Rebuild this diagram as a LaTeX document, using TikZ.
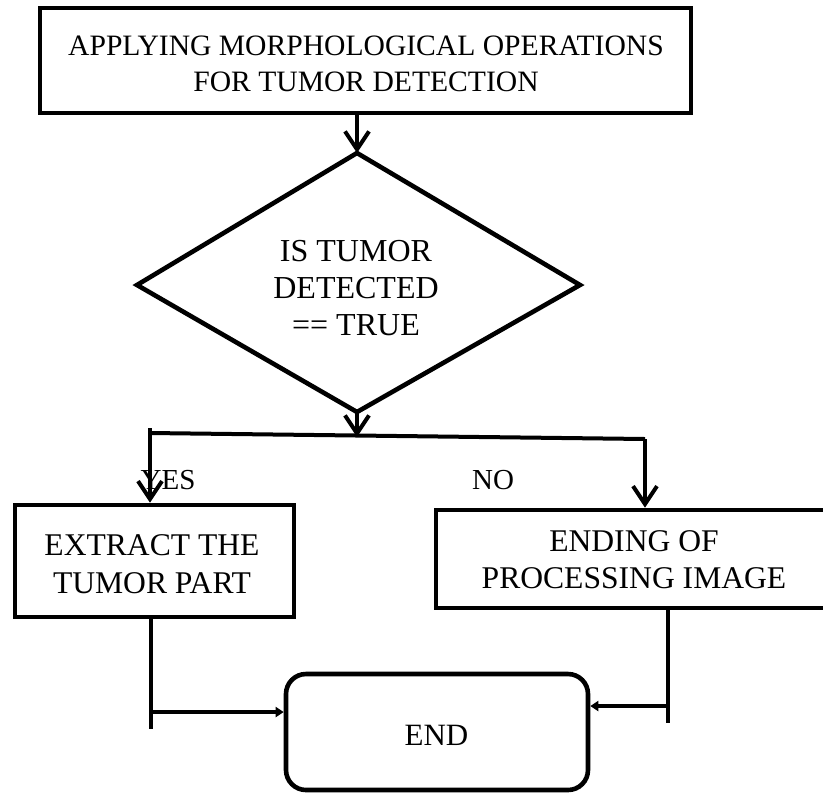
\documentclass[tikz,border=0pt]{standalone}
\usepackage{fontspec}
\setmainfont{Liberation Serif}
\usetikzlibrary{arrows.meta}
\begin{document}
\begin{tikzpicture}[x=0.5pt,y=-0.5pt,
  box/.style={draw,line width=2.3pt,inner sep=0pt},
  txt/.style={align=center,inner sep=0pt},
  conn/.style={line width=2pt},
  thinconn/.style={line width=1.6pt},
  barb/.style={conn,-{Straight Barb[length=9pt,width=12pt,line width=2pt]}},
  tri/.style={line width=2.2pt,-{Triangle[length=4pt,width=5pt]}}]
\useasboundingbox (0,0) rectangle (823,793);
% boxes
\node[box,minimum width=325.5pt,minimum height=52.5pt] (top) at (365.5,60.5) {};
\node[txt,font=\fontsize{14.8}{18}\selectfont] (toptext) at (366,64)
  {APPLYING MORPHOLOGICAL OPERATIONS\\FOR TUMOR DETECTION};
\node[box,minimum width=139.5pt,minimum height=56pt] (ext) at (154.5,561) {};
\node[txt,font=\fontsize{15.8}{19}\selectfont] (exttext) at (152,564)
  {EXTRACT THE\\TUMOR PART};
\node[box,minimum width=198pt,minimum height=49pt] (endp) at (634,559) {};
\node[txt,font=\fontsize{15.8}{18.5}\selectfont] (endptext) at (634,560)
  {ENDING OF\\PROCESSING IMAGE};
\node[box,rounded corners=10pt,minimum width=151pt,minimum height=58pt] (fin) at (437,732) {};
\node[txt,font=\fontsize{15.5}{18}\selectfont] (fintext) at (436.5,735) {END};
% diamond
\coordinate (dt) at (357,153);
\coordinate (dl) at (137,285);
\coordinate (dr) at (580,285);
\coordinate (db) at (357,412);
\draw[line width=2.3pt,line join=miter] (dt) -- (dr) -- (db) -- (dl) -- cycle;
\node[txt,font=\fontsize{16}{18.5}\selectfont] (dtext) at (356,288)
  {IS TUMOR\\DETECTED\\== TRUE};
% connectors
\draw[barb] (top.south -| dt) -- (dt);
\coordinate (jc) at (357,437);
\draw[barb] (db) -- (jc);
\coordinate (jl) at (150,433);
\coordinate (jr) at (645,439);
\coordinate (jlt) at (150,428);
\draw[conn] (jl) -- (jr);
\draw[barb] (jlt) -- (ext.north -| jl);
\draw[barb] (jr) -- (endp.north -| jr);
\node[font=\fontsize{14.5}{17}\selectfont,inner sep=0pt] (yes) at (168,480) {YES};
\node[font=\fontsize{14.5}{17}\selectfont,inner sep=0pt] (no) at (493,480) {NO};
% to END
\coordinate (l1) at (151,729);
\coordinate (lh) at (151,712);
\draw[thinconn] (ext.south -| l1) -- (l1);
\draw[tri] (lh) -- (lh -| fin.west);
\coordinate (r1) at (668,723);
\coordinate (rh) at (668,706);
\draw[thinconn] (endp.south -| r1) -- (r1);
\draw[tri] (rh) -- (rh -| fin.east);
\end{tikzpicture}
\end{document}
